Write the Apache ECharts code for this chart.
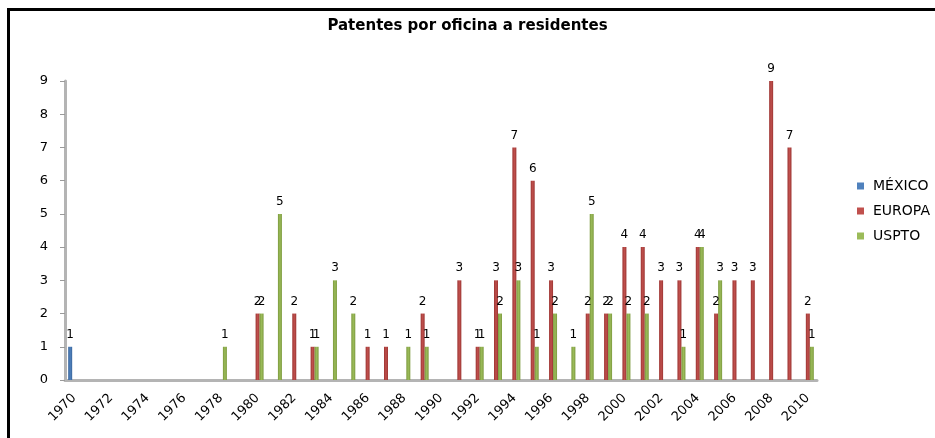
<!DOCTYPE html>
<html>
<head>
<meta charset="utf-8">
<script src="https://cdn.jsdelivr.net/npm/echarts@6/dist/echarts.min.js"></script>
<style>
html, body { margin: 0; padding: 0; background: #fff; }
#chart { width: 935px; height: 438px; }
</style>
</head>
<body>
<div id="chart"></div>
<script>
// años 1970 - 2010
let years = [];
for (let y = 1970; y <= 2010; y++) years.push(String(y));

// valores por oficina (null = sin patentes)
let mexico = [1, null, null, null, null, null, null, null, null, null,
    null, null, null, null, null, null, null, null, null, null,
    null, null, null, null, null, null, null, null, null, null,
    null, null, null, null, null, null, null, null, null, null, null];
let europa = [null, null, null, null, null, null, null, null, null, null,
    2, null, 2, 1, null, null, 1, 1, null, 2,
    null, 3, 1, 3, 7, 6, 3, null, 2, 2,
    4, 4, 3, 3, 4, 2, 3, 3, 9, 7, 2];
let uspto = [null, null, null, null, null, null, null, null, 1, null,
    2, 5, null, 1, 3, 2, null, null, 1, 1,
    null, null, 1, 2, 3, 1, 2, 1, 5, 2,
    2, 2, null, 1, 4, 3, null, null, null, null, 1];
let yTicks = [0, 9, 1]; // min, max, intervalo

let chart = echarts.init(document.getElementById('chart'));
let fuente = 'DejaVu Sans';

function barSerie(name, data, color, dark){
    return {
        name: name,
        type: 'bar',
        data: data,
        barWidth: 4,
        barGap: 0,
        itemStyle: {
            color: new echarts.graphic.LinearGradient(0, 0, 1, 0, [
                { offset: 0, color: dark },
                { offset: 0.5, color: color },
                { offset: 1, color: dark }
            ])
        },
        label: {
            show: true,
            position: 'top',
            distance: 6,
            color: '#000',
            fontFamily: fuente,
            fontSize: 12
        }
    }
}

let option = {
    backgroundColor: '#fff',
    animation: false,
    title: {
        text: 'Patentes por oficina a residentes',
        left: 'center',
        top: 14,
        textStyle: {
            color: '#000',
            fontFamily: fuente,
            fontWeight: 'bold',
            fontSize: 15
        }
    },
    legend: {
        orient: 'vertical',
        left: 857,
        top: 179,
        padding: 0,
        itemWidth: 7,
        itemHeight: 7,
        itemGap: 11,
        icon: 'rect',
        textStyle: {
            color: '#000',
            fontFamily: fuente,
            fontSize: 14,
            padding: [0, 0, 0, 4]
        },
        data: [
            { name: 'MÉXICO', itemStyle: { color: '#4f81bd' } },
            { name: 'EUROPA', itemStyle: { color: '#c0504d' } },
            { name: 'USPTO', itemStyle: { color: '#9bbb59' } }
        ]
    },
    grid: {
        left: 65,
        right: 118,
        top: 81,
        bottom: 58
    },
    xAxis: {
        type: 'category',
        data: years,
        axisLine: { lineStyle: { color: '#b4b4b4', width: 3 } },
        axisTick: { interval: 0, length: 5, lineStyle: { color: '#9a9a9a' } },
        axisLabel: {
            interval: 1,
            rotate: 45,
            margin: 16,
            color: '#000',
            fontFamily: fuente,
            fontSize: 13
        },
        splitLine: { show: false }
    },
    yAxis: {
        type: 'value',
        min: yTicks[0],
        max: yTicks[1],
        interval: yTicks[2],
        axisLine: { show: true, lineStyle: { color: '#b4b4b4', width: 3 } },
        axisTick: { show: true, length: 5, lineStyle: { color: '#9a9a9a' } },
        axisLabel: {
            margin: 17,
            color: '#000',
            fontFamily: fuente,
            fontSize: 13
        },
        splitLine: { show: false }
    },
    graphic: [{
        type: 'rect',
        shape: { x: 8.5, y: 9.5, width: 940, height: 440 },
        style: { fill: null, stroke: '#000', lineWidth: 3 },
        silent: true
    }],
    series: [
        barSerie('MÉXICO', mexico, '#4f81bd', '#3a669c'),
        barSerie('EUROPA', europa, '#c0504d', '#9c3533'),
        barSerie('USPTO', uspto, '#9bbb59', '#7c9a3e')
    ]
};
chart.setOption(option);
window.addEventListener('resize', function(){
    chart.resize()
})
</script>
</body>
</html>
